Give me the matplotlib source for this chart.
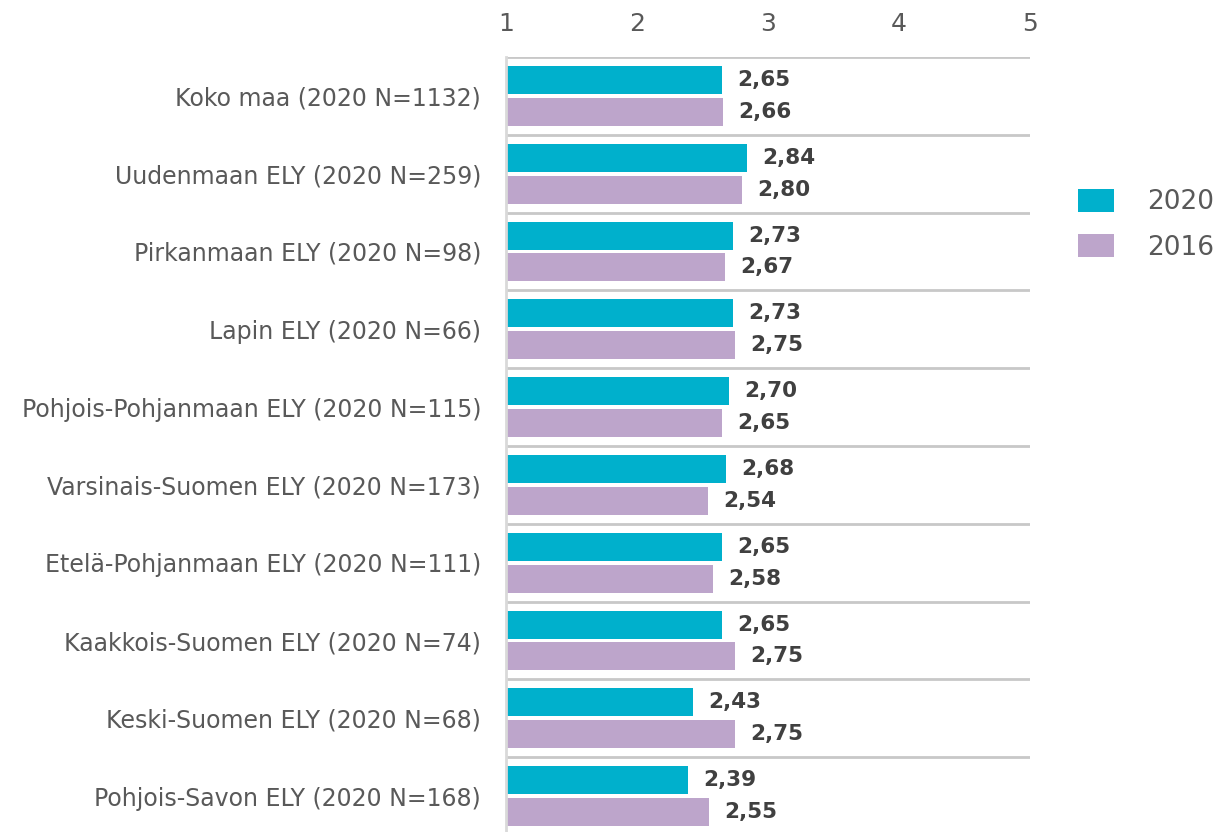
import numpy as np
import matplotlib.pyplot as plt

categories = [
    'Koko maa (2020 N=1132)',
    'Uudenmaan ELY (2020 N=259)',
    'Pirkanmaan ELY (2020 N=98)',
    'Lapin ELY (2020 N=66)',
    'Pohjois-Pohjanmaan ELY (2020 N=115)',
    'Varsinais-Suomen ELY (2020 N=173)',
    'Etelä-Pohjanmaan ELY (2020 N=111)',
    'Kaakkois-Suomen ELY (2020 N=74)',
    'Keski-Suomen ELY (2020 N=68)',
    'Pohjois-Savon ELY (2020 N=168)',
]
values_2020 = [2.65, 2.84, 2.73, 2.73, 2.70, 2.68, 2.65, 2.65, 2.43, 2.39]
values_2016 = [2.66, 2.80, 2.67, 2.75, 2.65, 2.54, 2.58, 2.75, 2.75, 2.55]
series_names = ['2020', '2016']
x_ticks = [1, 2, 3, 4, 5]

blue = '#00B0CC'
purple = '#BDA5CB'
label_gray = '#595959'
value_gray = '#404040'

plt.rcParams['font.family'] = ['DejaVu Sans']

fig = plt.figure(figsize=(12.22, 8.32), dpi=100)
# axes spans from the top gridline down past the bottom edge of the figure
ax = fig.add_axes([506 / 1222, -3 / 832, 524 / 1222, 778 / 832])

n = len(categories)
y = np.arange(n)
bar_h = 0.36
gap = 0.025

b1 = ax.barh(y - bar_h / 2 - gap, np.array(values_2020) - 1, left=1, height=bar_h,
             color=blue, label=series_names[0])
b2 = ax.barh(y + bar_h / 2 + gap, np.array(values_2016) - 1, left=1, height=bar_h,
             color=purple, label=series_names[1])

for bars, vals in ((b1, values_2020), (b2, values_2016)):
    for rect, v in zip(bars, vals):
        ax.annotate(f'{v:.2f}'.replace('.', ','),
                    (rect.get_x() + rect.get_width(), rect.get_y() + rect.get_height() / 2),
                    xytext=(11, 0), textcoords='offset points', ha='left', va='center',
                    fontsize=15.5, fontweight='bold', color=value_gray)

ax.set_xlim(1, 5)
ax.set_ylim(n - 0.5, -0.5)
ax.set_yticks(y)
ax.set_yticklabels(categories, fontsize=17, color=label_gray)
ax.set_xticks(x_ticks)
ax.set_xticklabels([str(t) for t in x_ticks], fontsize=18, color=label_gray)
ax.xaxis.tick_top()
ax.tick_params(axis='x', length=0, pad=15)
ax.tick_params(axis='y', length=0, pad=18)

# separators between the groups
for yy in np.arange(n + 1) - 0.5:
    ax.axhline(yy, color='#c8c8c8', lw=2, zorder=0)

for side in ('top', 'right', 'bottom'):
    ax.spines[side].set_visible(False)
ax.spines['left'].set_color('#d9d9d9')
ax.spines['left'].set_linewidth(2)

fig.legend(handles=[b1, b2], labels=series_names, loc='upper left',
           bbox_to_anchor=(1078 / 1222, 1 - 189 / 832), frameon=False,
           borderpad=0, borderaxespad=0,
           fontsize=19, labelcolor=label_gray, handlelength=1.36, handleheight=0.95,
           handletextpad=1.25, labelspacing=0.72)

fig.savefig('out.png', dpi=100)
